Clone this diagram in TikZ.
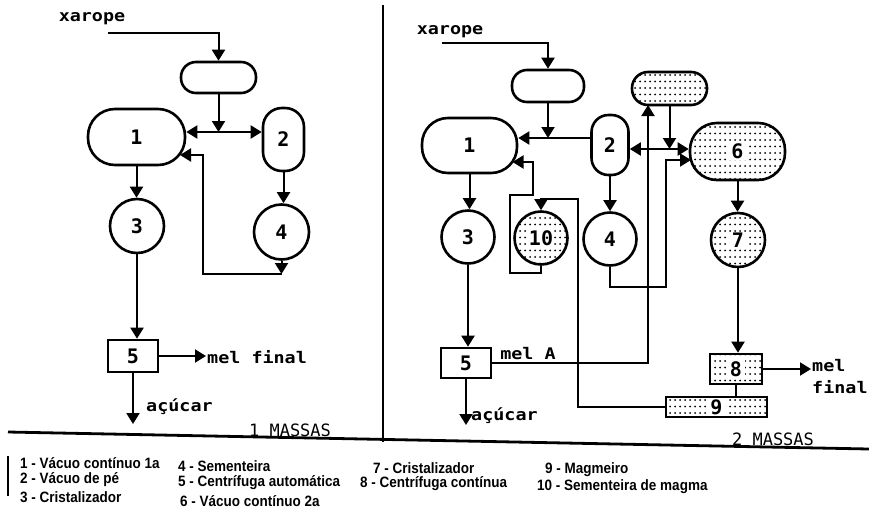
\documentclass[tikz,border=0pt]{standalone}
\usepackage{fontspec}
\setmainfont{DejaVu Sans}
\newfontfamily\labfont[FakeStretch=1.15]{DejaVu Sans Mono}
\newfontfamily\numfont{DejaVu Sans Mono}
\newfontfamily\legfont[FakeStretch=0.9]{Liberation Sans}
\usetikzlibrary{arrows.meta,patterns}
\pgfdeclarepatternformonly{rowdots}{\pgfqpoint{-1pt}{-1pt}}{\pgfqpoint{1pt}{1pt}}{\pgfqpoint{5pt}{6.5pt}}{\pgfpathcircle{\pgfqpoint{0pt}{0pt}}{1pt}\pgfusepath{fill}}
\tikzset{
  unitbox/.style={draw, line width=2.6pt, inner sep=0pt, font=\numfont\bfseries\fontsize{20}{20}\selectfont},
  pill/.style n args={3}{unitbox, rectangle, rounded corners=#3, minimum width=#1, minimum height=#2},
  circ/.style={unitbox, circle, minimum size=#1},
  boxr/.style n args={2}{unitbox, rectangle, minimum width=#1, minimum height=#2},
  dotf/.style={pattern=rowdots},
  numbg/.style={fill=white, inner xsep=3pt, inner ysep=1pt, font=\numfont\bfseries\fontsize{20}{20}\selectfont},
  conn/.style={line width=2pt},
  arr/.style={conn, -{Triangle[width=13pt,length=11pt]}},
  lab/.style={font=\labfont\bfseries\fontsize{16}{22}\selectfont, inner sep=1pt},
  mass/.style={font=\numfont\fontsize{17}{17}\selectfont, inner sep=1pt},
  leg/.style={font=\legfont\bfseries\fontsize{15}{15}\selectfont, anchor=west, inner sep=0pt},
  frame/.style={line width=2.2pt}
}
\begin{document}
\begin{tikzpicture}[x=1pt,y=-1pt]
\useasboundingbox (0,0) rectangle (869,517);
% ---------- frame ----------
\coordinate (fTop) at (383,5);
\coordinate (fBot) at (383,442);
\coordinate (hL) at (8,432);
\coordinate (hR) at (869,449);
\draw[frame] (fTop) -- (fBot);
\draw[line width=2.8pt] (hL) -- (hR);
\coordinate (tickA) at (8,456);
\coordinate (tickB) at (8,496);
\draw[line width=1.4pt] (tickA) -- (tickB);
\node[mass] (m1) at (290,430) {1 MASSAS};
\node[mass] (m2) at (773,439) {2 MASSAS};

% ---------- left panel ----------
\node[lab] (Lxar) at (92,19) {xarope};
\node[pill={75pt}{31pt}{15pt}] (Ltop) at (218.5,77.5) {};
\node[pill={97pt}{56pt}{27pt}] (L1) at (136.5,137) {1};
\node[pill={41pt}{63pt}{19pt}] (L2) at (283.5,139.5) {2};
\node[circ=54pt] (L3) at (137,226) {3};
\node[circ=55pt] (L4) at (281.5,232) {4};
\node[boxr={50pt}{32pt}] (L5) at (133,356) {5};
\node[lab, anchor=west] (Lmel) at (206,357) {mel final};
\node[lab, anchor=west] (Lsugt) at (145,407) {açúcar};

\coordinate (Lxs) at (108,33);
\coordinate (Ljn) at (218.5,132);
\coordinate (Lc1) at (281.5,274);
\coordinate (Lc2) at (203,274);
\coordinate (Lin1) at (180,155);
\coordinate (Lsug) at (133,424);

\draw[arr] (Lxs) -| (Ltop.north);
\draw[arr] (Ltop.south) -- (Ljn);
\draw[arr] (Ljn) -- (L1.east |- Ljn);
\draw[arr] (Ljn) -- (L2.west |- Ljn);
\draw[arr] (L1.south) -- (L1.south |- L3.north);
\draw[arr] (L2.south) -- (L2.south |- L4.north);
\draw[arr] (L4.south) -- (Lc1);
\draw[arr] (Lc1) -- (Lc2) |- (Lin1);
\draw[arr] (L3.south) -- (L3.south |- L5.north);
\draw[arr] (L5.east) -- (L5.east -| Lmel.west);
\draw[arr] (L5.south) -- (Lsug);

% ---------- right panel ----------
\node[lab] (Rxar) at (450,32) {xarope};
\node[pill={72pt}{32pt}{15pt}] (Rtop) at (548,86) {};
\node[pill={95pt}{55pt}{26pt}] (R1) at (469.5,145.5) {1};
\node[pill={37pt}{60pt}{17pt}] (R2) at (610,145) {2};
\node[pill={75pt}{33pt}{16pt}, dotf] (Rdot) at (669.5,88.5) {};
\node[pill={95pt}{57pt}{27pt}, dotf] (R6) at (737.5,151.5) {};
\node[numbg] (R6n) at (R6.center) {6};
\node[circ=53pt] (R3) at (468,237) {3};
\node[circ=53pt, dotf] (R10) at (541,238) {};
\node[numbg, inner xsep=1pt] (R10n) at (R10.center) {10};
\node[circ=53pt] (R4) at (610,239) {4};
\node[circ=54pt, dotf] (R7) at (738,240) {};
\node[numbg] (R7n) at (R7.center) {7};
\node[boxr={50pt}{30pt}] (R5) at (466,363) {5};
\node[boxr={52pt}{30pt}, dotf] (R8) at (736,369) {};
\node[numbg] (R8n) at (R8.center) {8};
\node[boxr={101pt}{20pt}, dotf] (R9) at (716.5,407) {};
\node[numbg, inner ysep=0pt] (R9n) at (R9.center) {9};
\node[lab] (RmelA) at (528,354) {mel A};
\node[lab, anchor=west] (Rsugt) at (470,416) {açúcar};
\node[lab, anchor=north west, align=left] (Rmel) at (811,358) {mel\\final};

\coordinate (Rxs) at (442,43);
\coordinate (Rjn) at (548,138);
\coordinate (Rjn2) at (669.5,149);
\coordinate (Rc4a) at (666,287);
\coordinate (Rin6) at (691,160);
\coordinate (RmA) at (648,105);
\coordinate (Rsug) at (466,425);
\coordinate (Rmelpt) at (811,369);
\coordinate (Rc9) at (578,199);
\coordinate (Rc10a) at (510,273);
\coordinate (Rc10b) at (533,195);
\coordinate (Rin1) at (512.5,162);

\draw[arr] (Rxs) -| (Rtop.north);
\draw[arr] (Rtop.south) -- (Rjn);
\draw[arr] (R2.west |- Rjn) -- (R1.east |- Rjn);
\draw[arr] (R1.south) -- (R1.south |- R3.north);
\draw[arr] (R2.south) -- (R2.south |- R4.north);
\draw[arr] (Rdot.south) -- (Rjn2);
\draw[arr] (Rjn2) -- (R2.east |- Rjn2);
\draw[arr] (Rjn2) -- (R6.west |- Rjn2);
\draw[arr] (R4.south) |- (Rc4a) |- (Rin6);
\draw[arr] (R5.east) -| (RmA);
\draw[arr] (R3.south) -- (R3.south |- R5.north);
\draw[arr] (R5.south) -- (Rsug);
\draw[arr] (R6.south) -- (R6.south |- R7.north);
\draw[arr] (R7.south) -- (R7.south |- R8.north);
\draw[conn] (R8.south) -- (R8.south |- R9.north);
\draw[arr] (R8.east) -- (Rmelpt);
\draw[arr] (R9.west) -| (Rc9) -| (R10.north);
\draw[arr] (R10.south) |- (Rc10a) |- (Rc10b) |- (Rin1);

% ---------- legend ----------
\node[leg] (g1) at (20,463) {1 - Vácuo contínuo 1a};
\node[leg] (g2) at (20,480) {2 - Vácuo de pé};
\node[leg] (g3) at (20,497) {3 - Cristalizador};
\node[leg] (g4) at (178,466) {4 - Sementeira};
\node[leg] (g5) at (178,483) {5 - Centrífuga automática};
\node[leg] (g6) at (180,501) {6 - Vácuo contínuo 2a};
\node[leg] (g7) at (373,468) {7 - Cristalizador};
\node[leg] (g8) at (360,484) {8 - Centrífuga contínua};
\node[leg] (g9) at (545,470) {9 - Magmeiro};
\node[leg] (g10) at (537,487) {10 - Sementeira de magma};
\end{tikzpicture}
\end{document}
